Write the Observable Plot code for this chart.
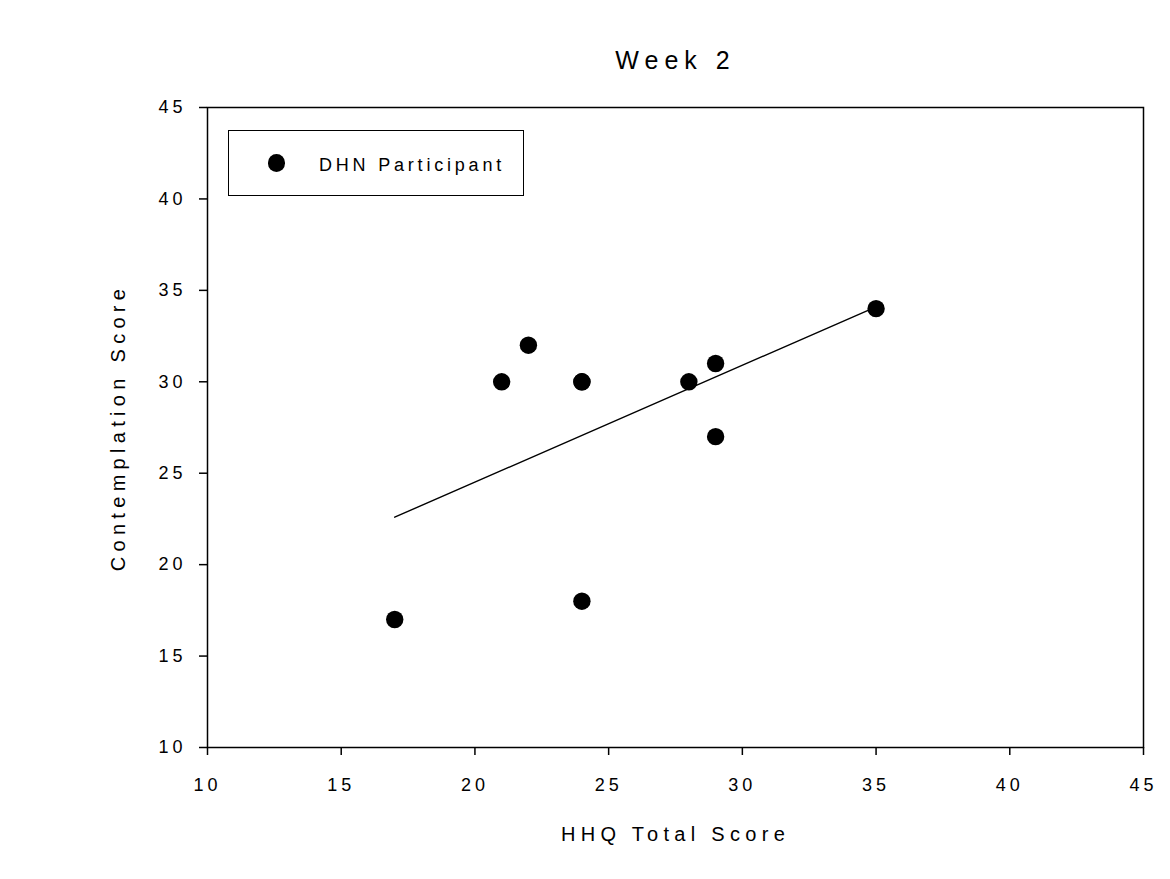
<!DOCTYPE html>
<html>
<head>
<meta charset="utf-8">
<script src="https://cdn.jsdelivr.net/npm/d3@7"></script>
<script src="https://cdn.jsdelivr.net/npm/@observablehq/plot@0.6"></script>
<style>
  body { margin: 0; background: #fff; }
  #wrap { position: relative; width: 1170px; height: 879px; }
  #legend {
    position: absolute; left: 228px; top: 130px; width: 296px; height: 66px;
    box-sizing: border-box; border: 1.5px solid #000; background: #fff;
    font-family: "Liberation Sans", Arial, sans-serif; font-size: 18px; letter-spacing: 3.8px; color: #000;
  }
  #legend .dot {
    position: absolute; left: 38.5px; top: 23px; width: 17.5px; height: 17.5px;
    border-radius: 50%; background: #000;
  }
  #legend .lab { position: absolute; left: 90px; top: 23px; line-height: 22px; white-space: nowrap; }
</style>
</head>
<body>
<div id="wrap"></div>
<script>
// Data
const hhqTotal = [17, 21, 22, 24, 24, 24, 28, 29, 29, 35];
const contemplation = [17, 30, 32, 30, 30, 18, 30, 31, 27, 34];
const xTicks = [10, 15, 20, 25, 30, 35, 40, 45];
const yTicks = [10, 15, 20, 25, 30, 35, 40, 45];
const titleText = "Week 2";
const xLabel = "HHQ Total Score";
const yLabel = "Contemplation Score";
const legendLabel = "DHN Participant";

const data = hhqTotal.map((x, i) => ({x, y: contemplation[i]}));

const chart = Plot.plot({
  width: 1170,
  height: 879,
  marginLeft: 207,
  marginRight: 27,
  marginTop: 107,
  marginBottom: 132,
  style: {fontFamily: "'Liberation Sans', Arial, sans-serif", fontSize: "18px", color: "#000", background: "#fff"},
  x: {domain: [10, 45]},
  y: {domain: [10, 45]},
  marks: [
    Plot.frame({stroke: "#000", strokeWidth: 1.5}),
    Plot.axisX({ticks: xTicks, tickSize: 8, tickPadding: 23, strokeWidth: 1.5, fontSize: 18, label: null}),
    Plot.axisY({ticks: yTicks, tickSize: 8, tickPadding: 13, strokeWidth: 1.5, fontSize: 18, label: null}),
    Plot.linearRegressionY(data, {x: "x", y: "y", ci: 0, stroke: "#000", strokeWidth: 1.4}),
    Plot.dot(data, {x: "x", y: "y", r: 8.7, fill: "#000", stroke: "none"}),
    Plot.text([titleText], {frameAnchor: "top", textAnchor: "middle", dy: -56, fontSize: 25, fill: "#000"}),
    Plot.text([xLabel], {frameAnchor: "bottom", textAnchor: "middle", dy: 93, fontSize: 20, fill: "#000"}),
    Plot.text([yLabel], {frameAnchor: "left", textAnchor: "middle", dx: -88.5, rotate: -90, fontSize: 20, fill: "#000"})
  ]
});

const svg = d3.select(chart);
svg.selectAll("text").each(function() {
  const t = this.textContent;
  const sel = d3.select(this);
  if (t === titleText) sel.style("letter-spacing", "6px");
  else if (t === xLabel || t === yLabel) sel.style("letter-spacing", "5.3px");
  else sel.style("letter-spacing", "4px");
});

const wrap = document.getElementById("wrap");
wrap.appendChild(chart);

const legend = document.createElement("div");
legend.id = "legend";
legend.innerHTML = `<span class="dot"></span><span class="lab"></span>`;
legend.querySelector(".lab").textContent = legendLabel;
wrap.appendChild(legend);
</script>
</body>
</html>
